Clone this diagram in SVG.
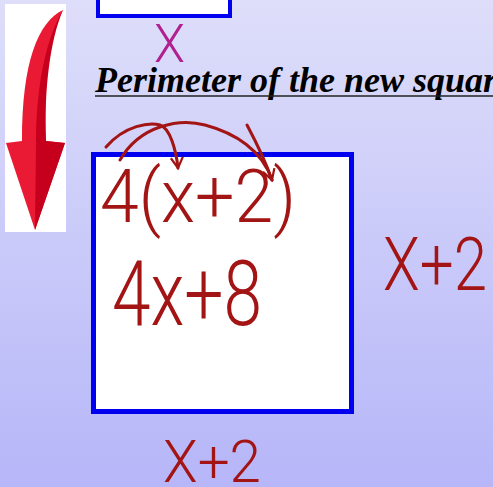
<svg xmlns="http://www.w3.org/2000/svg" width="493" height="487" viewBox="0 0 493 487">
<defs>
<linearGradient id="bg" x1="0" y1="0" x2="0" y2="1">
<stop offset="0" stop-color="#dedefa"/>
<stop offset="1" stop-color="#b6b6f9"/>
</linearGradient>
<marker id="ah" viewBox="0 0 10 10" refX="8" refY="5" markerWidth="5" markerHeight="5" orient="auto">
<path d="M1,1 L8,5 L1,9" fill="none" stroke="#a31414" stroke-width="1.5"/>
</marker>
<style>
.hw{font-family:Roboto,"Liberation Sans","DejaVu Sans",sans-serif;font-weight:300;fill:#a31414}
.box{fill:#ffffff;stroke:#0000f0}
.arc{fill:none;stroke:#a31414;stroke-width:3;stroke-linecap:round;stroke-linejoin:round}
</style>
</defs>
<rect width="493" height="487" fill="url(#bg)"/>

<g id="arrow-panel">
<rect x="5" y="4" width="61" height="228" fill="#ffffff"/>
<path d="M63,10 C38,22 22,62 22,141 L6,143 L35,230 L65,143 L46,141 C44,92 47,42 63,10 Z" fill="#ea1a34"/>
<path d="M63,10 C50,40 44,90 46,141 L65,143 L35,230 L36,143 C36,90 45,40 63,10 Z" fill="#c6001c"/>
</g>

<g id="old-square">
<rect x="98" y="-10" width="132" height="26" class="box" stroke-width="4"/>
</g>

<g id="old-side">
<text x="154" y="62" class="hw" font-size="54" style="fill:#b0208f" textLength="31" lengthAdjust="spacingAndGlyphs">X</text>
</g>

<g id="title">
<text x="95" y="92" font-family="'Liberation Serif','DejaVu Serif',serif" font-weight="bold" font-style="italic" font-size="36" fill="#000000">Perimeter of the new square</text>
<line x1="95" y1="96" x2="493" y2="96" stroke="#222222" stroke-width="1.5"/>
</g>

<g id="new-square">
<rect x="93.5" y="154.5" width="258" height="257" class="box" stroke-width="5"/>
</g>

<g id="expr1">
<text x="100" y="222" class="hw" font-size="74" textLength="196" lengthAdjust="spacingAndGlyphs">4(x+2)</text>
</g>

<g id="expr2">
<text x="112" y="325" class="hw" font-size="90" textLength="150" lengthAdjust="spacingAndGlyphs">4x+8</text>
</g>

<g id="side-right">
<text x="383" y="290" class="hw" font-size="74" textLength="104" lengthAdjust="spacingAndGlyphs">X+2</text>
</g>

<g id="side-bottom">
<text x="163" y="482" class="hw" font-size="60" textLength="98" lengthAdjust="spacingAndGlyphs">X+2</text>
</g>

<g id="connectors">
<path class="arc" d="M106,147 C125,125 150,122 160,125 C170,128 176,150 178,168" marker-end="url(#ah)"/>
<path class="arc" d="M120,160 C140,125 180,118 205,125 C235,133 262,150 272,180" marker-end="url(#ah)"/>
<path class="arc" d="M247,125 C255,140 265,160 272,180"/>
</g>
</svg>
